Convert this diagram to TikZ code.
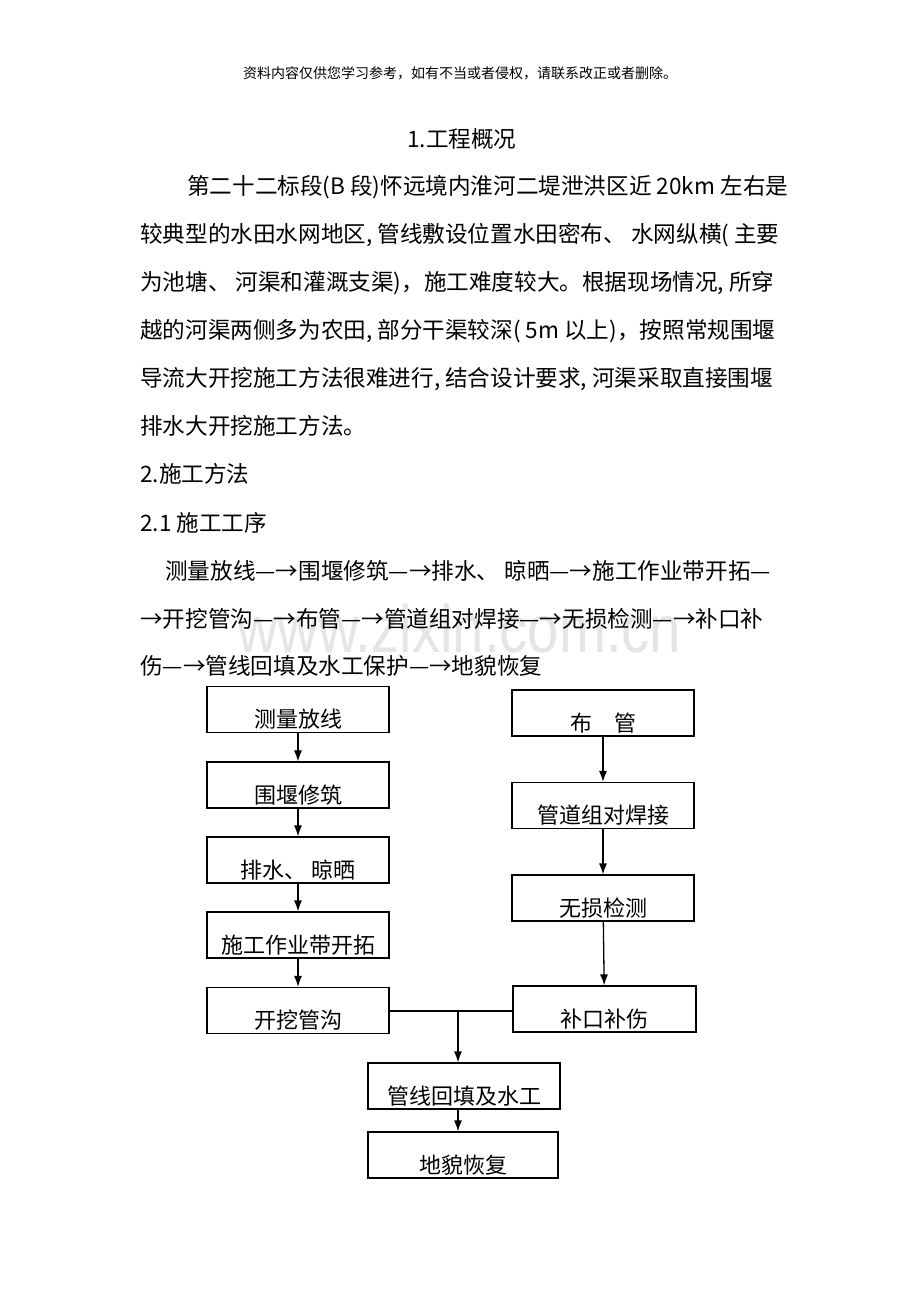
\documentclass[tikz,border=0pt]{standalone}
\usepackage{fontspec}
\setmainfont{Noto Sans CJK SC}
\newfontfamily\wmfont{Liberation Sans}
\usetikzlibrary{arrows.meta}

\begin{document}
\begin{tikzpicture}[
        x=1pt, y=-1pt,
        % define styles
        line/.style={
            anchor=base west,
            inner sep=0pt,
            font=\fontsize{22.6pt}{23pt}\selectfont
        },
        box/.style={
            draw,
            line width=1.2pt,
            inner sep=0pt,
            minimum width=182pt,
            minimum height=46pt,
            text height=36pt,
            text depth=0pt,
            font=\fontsize{22pt}{22pt}\selectfont
        },
        link/.style={
            line width=1.3pt
        },
        >={Latex[length=11pt,width=8pt]}
    ]
    % page
    \fill[white] (0,0) rectangle (920,1302);
    \useasboundingbox (0,0) rectangle (920,1302);

    % watermark behind the text
    \node[anchor=base west, inner sep=0pt, text=black!10, xscale=0.84,
          font=\wmfont\fontsize{67pt}{67pt}\selectfont] (wm) at (237,652) {www.zixin.com.cn};

    % header and text lines
    \node[anchor=base, inner sep=0pt, font=\fontsize{14pt}{14pt}\selectfont] (hdr) at (460,78)
        {资料内容仅供您学习参考，如有不当或者侵权，请联系改正或者删除。};
    \node[line] (title) at (407,147) {1.工程概况};
    \node[line] (p1) at (187,194) {第二十二标段(B 段)怀远境内淮河二堤泄洪区近 20km 左右是};
    \node[line] (p2) at (140,242) {较典型的水田水网地区, 管线敷设位置水田密布、 水网纵横( 主要};
    \node[line] (p3) at (140,290) {为池塘、 河渠和灌溉支渠)，施工难度较大。根据现场情况, 所穿};
    \node[line] (p4) at (140,338) {越的河渠两侧多为农田, 部分干渠较深( 5m 以上)，按照常规围堰};
    \node[line] (p5) at (140,386) {导流大开挖施工方法很难进行, 结合设计要求, 河渠采取直接围堰};
    \node[line] (p6) at (140,434) {排水大开挖施工方法。};
    \node[line] (sec2) at (140,482) {2.施工方法};
    \node[line] (sec21) at (140,531) {2.1 施工工序};
    \node[line] (proc1) at (165,579) {测量放线—→围堰修筑—→排水、 晾晒—→施工作业带开拓—};
    \node[line] (proc2) at (140,627) {→开挖管沟—→布管—→管道组对焊接—→无损检测—→补口补};
    \node[line] (proc3) at (140,674) {伤—→管线回填及水工保护—→地貌恢复};

    % left column
    \node[box] (survey) at (298,709.5) {测量放线};
    \node[box] (coffer) at (298,785) {围堰修筑};
    \node[box] (drain) at (298,860) {排水、 晾晒};
    \node[box] (clearing) at (298,935) {施工作业带开拓};
    \node[box] (dig) at (298,1010.5) {开挖管沟};

    % right column
    \node[box] (lay) at (603,713) {布\hspace{1em}管};
    \node[box] (weld) at (603,805.5) {管道组对焊接};
    \node[box] (ndt) at (603,898) {无损检测};
    \node[box, minimum width=183pt] (patch) at (604.5,1009) {补口补伤};

    % bottom
    \node[box, minimum width=192pt] (backfill) at (464,1086) {管线回填及水工};
    \node[box, minimum width=190pt] (restore) at (463,1155) {地貌恢复};

    % arrows down each column
    \foreach \a/\b in {survey/coffer, coffer/drain, drain/clearing, clearing/dig,
                       lay/weld, weld/ndt, ndt/patch}
        \draw[link, ->] (\a) -- (\b);

    % join of both columns
    \coordinate (join) at (458,1011);
    \draw[link] (dig.east |- join) -- (patch.west |- join);
    \draw[link, ->] (join) -- (join |- backfill.north);
    \draw[link, ->] (join |- backfill.south) -- (join |- restore.north);

\end{tikzpicture}
\end{document}
